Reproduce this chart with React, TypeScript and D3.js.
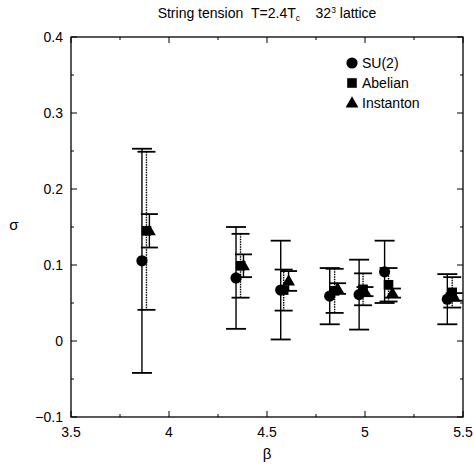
import React from "react";
import * as d3 from "d3";

const W = 474;
const H = 465;

const betaSU2 = [3.862, 4.342, 4.57, 4.82, 4.97, 5.1, 5.42];
const sigmaSU2 = [0.1055, 0.083, 0.067, 0.059, 0.061, 0.091, 0.055];
const errSU2 = [0.1475, 0.067, 0.065, 0.037, 0.046, 0.041, 0.033];

const betaAbel = [3.885, 4.365, 4.585, 4.845, 4.99, 5.12, 5.445];
const sigmaAbel = [0.145, 0.099, 0.067, 0.066, 0.068, 0.074, 0.064];
const errAbel = [0.104, 0.042, 0.027, 0.029, 0.021, 0.022, 0.02];

const betaInst = [3.9, 4.38, 4.61, 4.86, 5.0, 5.14, 5.455];
const sigmaInst = [0.145, 0.099, 0.079, 0.069, 0.065, 0.063, 0.058];
const errInst = [0.022, 0.015, 0.013, 0.007, 0.006, 0.006, 0.005];

const xTicks = [3.5, 4, 4.5, 5, 5.5];
const xTickLabels = ["3.5", "4", "4.5", "5", "5.5"];
const yTicks = [-0.1, 0, 0.1, 0.2, 0.3, 0.4];
const yTickLabels = ["\u22120.1", "0", "0.1", "0.2", "0.3", "0.4"];

const legendNames = ["SU(2)", "Abelian", "Instanton"];

const FONT = "'Liberation Sans', Arial, Helvetica, sans-serif";

export default function App() {
  const x = d3.scaleLinear().domain([3.5, 5.5]).range([71, 463]);
  const y = d3.scaleLinear().domain([-0.1, 0.4]).range([417, 37]);
  const [x0, x1] = x.range();
  const [y0, y1] = y.range();

  const xMinor = d3.range(3.5, 5.5001, 0.25);
  const yMinor = d3.range(-0.1, 0.4001, 0.05);

  const series = [
    { b: betaSU2, s: sigmaSU2, e: errSU2, kind: "circle", dash: "none", cap: 10 },
    { b: betaAbel, s: sigmaAbel, e: errAbel, kind: "square", dash: "1.5,1", cap: 9 },
    { b: betaInst, s: sigmaInst, e: errInst, kind: "triangle", dash: "none", cap: 8.5 },
  ];

  const marker = (kind: string, cx: number, cy: number, key: string) => {
    if (kind === "circle") return <circle key={key} cx={cx} cy={cy} r={5.6} fill="#000" />;
    if (kind === "square")
      return <rect key={key} x={cx - 4.8} y={cy - 4.8} width={9.6} height={9.6} fill="#000" />;
    const tri = d3.symbol(d3.symbolTriangle, 72)();
    return <path key={key} d={tri || ""} transform={`translate(${cx},${cy + 0.8})`} fill="#000" />;
  };

  return (
    <svg
      width={W}
      height={H}
      style={{ position: "absolute", left: 0, top: 0, background: "#fff" }}
      fontFamily={FONT}
    >
      <rect x={0} y={0} width={W} height={H} fill="#fff" />
      {/* title */}
      <text x={267} y={18} fontSize={14} textAnchor="middle" fill="#000">
        String tension{"\u00a0\u00a0"}T=2.4T
        <tspan fontSize={8.5} dy={3}>c</tspan>
        <tspan dy={-3}>{"\u00a0\u00a0\u00a0\u00a0"}32</tspan>
        <tspan fontSize={8.5} dy={-5}>3</tspan>
        <tspan dy={5}> lattice</tspan>
      </text>

      {/* frame */}
      <rect x={x0} y={y1} width={x1 - x0} height={y0 - y1} fill="none" stroke="#000" strokeWidth={1.3} />

      {/* x ticks */}
      {xMinor.map((v, i) => {
        const major = Math.abs(v * 2 - Math.round(v * 2)) < 1e-6;
        const len = major ? 6 : 3;
        return (
          <g key={"xt" + i}>
            <line x1={x(v)} x2={x(v)} y1={y0} y2={y0 - len} stroke="#000" strokeWidth={1} />
            <line x1={x(v)} x2={x(v)} y1={y1} y2={y1 + len} stroke="#000" strokeWidth={1} />
          </g>
        );
      })}
      {/* y ticks */}
      {yMinor.map((v, i) => {
        const major = Math.abs(v * 10 - Math.round(v * 10)) < 1e-6;
        const len = major ? 6 : 3;
        return (
          <g key={"yt" + i}>
            <line x1={x0} x2={x0 + len} y1={y(v)} y2={y(v)} stroke="#000" strokeWidth={1} />
            <line x1={x1} x2={x1 - len} y1={y(v)} y2={y(v)} stroke="#000" strokeWidth={1} />
          </g>
        );
      })}

      {/* x tick labels */}
      {xTicks.map((v, i) => (
        <text key={"xl" + i} x={x(v)} y={y0 + 20} fontSize={14} textAnchor="middle" fill="#000">
          {xTickLabels[i]}
        </text>
      ))}
      {/* y tick labels */}
      {yTicks.map((v, i) => (
        <text key={"yl" + i} x={x0 - 8} y={y(v) + 5} fontSize={14} textAnchor="end" fill="#000">
          {yTickLabels[i]}
        </text>
      ))}

      {/* axis labels */}
      <text x={267} y={459} fontSize={15} textAnchor="middle" fill="#000">
        β
      </text>
      <text x={14} y={230} fontSize={15} textAnchor="middle" fill="#000">
        σ
      </text>

      {/* error bars */}
      {series.map((ser, si) =>
        ser.b.map((bv, i) => {
          const cx = x(bv);
          const top = y(ser.s[i] + ser.e[i]);
          const bot = y(ser.s[i] - ser.e[i]);
          return (
            <g key={`eb${si}-${i}`} stroke="#000" strokeWidth={1.4}>
              <line x1={cx} x2={cx} y1={top} y2={bot} strokeDasharray={ser.dash} />
              <line x1={cx - ser.cap} x2={cx + ser.cap} y1={top} y2={top} strokeWidth={1.8} />
              <line x1={cx - ser.cap} x2={cx + ser.cap} y1={bot} y2={bot} strokeWidth={1.8} />
            </g>
          );
        })
      )}

      {/* markers */}
      {series.map((ser, si) =>
        ser.b.map((bv, i) => marker(ser.kind, x(bv), y(ser.s[i]), `m${si}-${i}`))
      )}

      {/* legend */}
      {legendNames.map((name, i) => {
        const ly = 63 + i * 20;
        return (
          <g key={"lg" + i}>
            {marker(series[i].kind, 352, ly, "lm" + i)}
            <text x={362} y={ly + 5} fontSize={14} fill="#000">
              {name}
            </text>
          </g>
        );
      })}
    </svg>
  );
}
